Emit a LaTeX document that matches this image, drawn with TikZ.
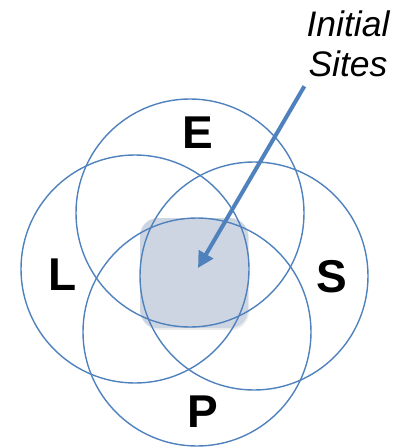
\documentclass[tikz,border=0pt]{standalone}
\usepackage{fontspec}
\setmainfont{Liberation Sans}
\usetikzlibrary{arrows.meta,shadows}
\definecolor{ringblue}{RGB}{79,129,189}
\definecolor{coregray}{RGB}{205,213,226}

\begin{document}
\begin{tikzpicture}[x=1pt,y=-1pt,line join=round,
  ring/.style={circle,draw=ringblue,line width=1.4pt,minimum size=228pt,inner sep=0pt},
  setlabel/.style={font=\fontsize{46}{46}\selectfont\bfseries,inner sep=0pt}]
 \useasboundingbox (0,0) rectangle (399,448);
 % shaded core where all four sets meet
 \node[fill=coregray,rounded corners=18pt,minimum width=108pt,minimum height=110pt,
   drop shadow={opacity=.15,shadow xshift=1pt,shadow yshift=-2pt}] (core) at (194,273) {};
 \foreach \n/\x/\y in {E/190/213,L/135/269,S/254/276,P/197/332}
  \node[ring] (\n) at (\x,\y) {};
 \foreach \n/\x/\y in {E/198/133,L/63/275,S/332/277,P/203/412}
  \node[setlabel] (lab\n) at (\x,\y) {\n};
 \node[align=center,font=\fontsize{35.5}{40}\selectfont\itshape,inner sep=0pt] (init) at (348,44) {Initial\\Sites};
 \coordinate (tip) at (198,268);
 \draw[ringblue,line width=4pt,-{Triangle[length=16pt,width=16pt]}] ([shift={(-2,9)}]init.south west) -- (tip);
\end{tikzpicture}
\end{document}
